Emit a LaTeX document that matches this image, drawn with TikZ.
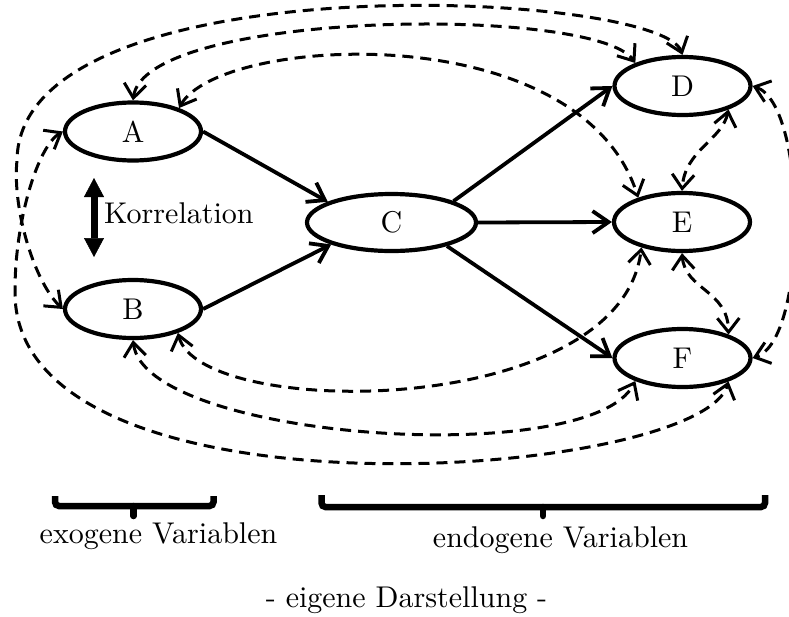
\documentclass[tikz,border=0pt]{standalone}
\usepackage{graphicx}
\usetikzlibrary{arrows.meta,shapes.geometric}
\newcommand{\Tx}[1]{\scalebox{3}{#1}}
\begin{document}
\begin{tikzpicture}[x=1pt,y=-1pt,
  var/.style={ellipse,draw,line width=4.2pt,minimum width=136pt,minimum height=58pt,inner sep=0pt},
  cvar/.style={var,minimum width=169pt,minimum height=57pt},
  solidarrow/.style={line width=3.8pt,-{Straight Barb[length=16pt,width=22pt]}},
  dasharrow/.style={line width=3pt,dash pattern=on 11pt off 7pt,{Straight Barb[length=14pt,width=22pt]}-{Straight Barb[length=14pt,width=22pt]}},
  corr/.style={line width=7pt,{Triangle[length=19pt,width=20pt,line width=0.5pt]}-{Triangle[length=19pt,width=20pt,line width=0.5pt]}},
  bracestyle/.style={line width=6.5pt,rounded corners=4pt},
  bracetip/.style={line width=6.5pt,line cap=round},
  lbl/.style={inner sep=0pt,anchor=base}]
\useasboundingbox (0,0) rectangle (789,616);

% variables
\node[var] (A) at (133,131.5) {\Tx{A}};
\node[var] (B) at (133,309) {\Tx{B}};
\node[cvar] (C) at (391.5,222.5) {\Tx{C}};
\node[var] (D) at (682.5,86) {\Tx{D}};
\node[var] (E) at (682,222) {\Tx{E}};
\node[var] (F) at (682.5,358) {\Tx{F}};

% solid paths
\draw[solidarrow] (A.east) -- (C.162);
\draw[solidarrow] (B.east) -- (C.200);
\draw[solidarrow] (C.19) -- (D.west);
\draw[solidarrow] (C.east) -- (E.west);
\draw[solidarrow] (C.337) -- (F.west);

% dashed correlations
\draw[dasharrow] (A.north) .. controls (145,10) and (595,5) .. (D.154);
\draw[dasharrow] (A.27) .. controls (220,35) and (580,15) .. (E.151);
\draw[dasharrow] (B.west) .. controls (35,283) and (12,210) .. (17,160) .. controls (20,-40) and (660,-10) .. (D.north);
\draw[dasharrow] (A.west) .. controls (38,146) and (15,220) .. (15,290) .. controls (10,530) and (700,480) .. (F.333);
\draw[dasharrow] (B.332) .. controls (200,420) and (620,420) .. (E.212);
\draw[dasharrow] (B.south) .. controls (145,440) and (590,470) .. (F.206);
\draw[dasharrow] (D.333) .. controls (722,140) and (685,150) .. (E.north);
\draw[dasharrow] (E.south) .. controls (685,290) and (728,290) .. (F.27);
\draw[dasharrow] (D.east) .. controls (808,105) and (808,340) .. (F.east);

% Korrelation
\coordinate (k1) at (94,178);
\coordinate (k2) at (94,257);
\draw[corr] (k1) -- (k2);
\node[lbl,anchor=base west] (kor) at (104,223) {\Tx{Korrelation}};

% braces
\draw[bracestyle] (55,496) -- (55,506) -- (213.5,506) -- (213.5,496);
\draw[bracetip] (133.5,506) -- (133.5,516);
\draw[bracestyle] (321.5,495) -- (321.5,507) -- (765,507) -- (765,495);
\draw[bracetip] (543,507) -- (543,516);

% texts
\node[lbl] (exo) at (158.5,543) {\Tx{exogene Variablen}};
\node[lbl] (endo) at (560.5,547) {\Tx{endogene Variablen}};
\node[lbl] (src) at (406.5,607) {\Tx{- eigene Darstellung -}};
\end{tikzpicture}
\end{document}
